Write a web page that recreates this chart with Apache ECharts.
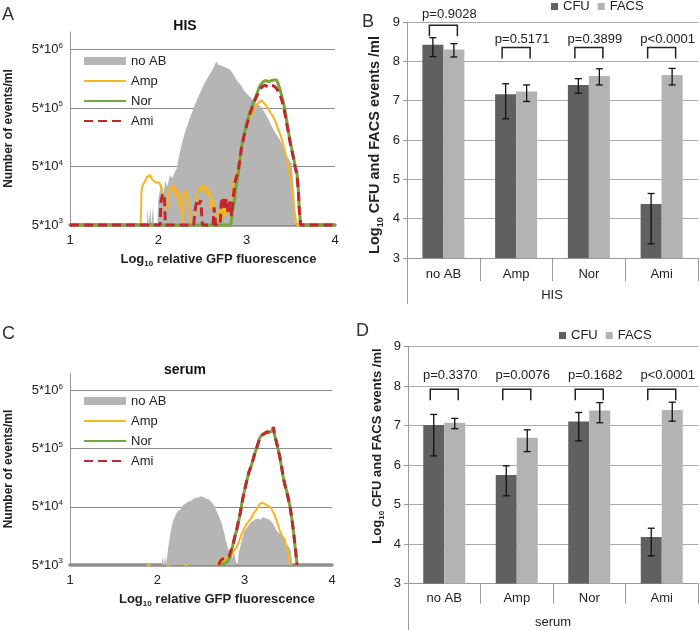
<!DOCTYPE html>
<html>
<head>
<meta charset="utf-8">
<script src="https://cdn.jsdelivr.net/npm/echarts@6/dist/echarts.min.js"></script>
<style>
  html, body { margin: 0; padding: 0; background: #fff; }
  #chart { width: 700px; height: 630px; }
</style>
</head>
<body>
<div id="chart"></div>
<script>
// histogram panels: [log10 relative GFP fluorescence, log10 events/ml]
const hisNoAB = [[1.00,3.70],[1.87,3.70],[1.88,4.00],[1.89,3.70],[1.91,4.00],[1.92,3.70],[1.94,4.01],[1.95,3.70],[1.99,3.70],
  [2.00,4.15],[2.02,4.30],[2.04,4.40],[2.06,4.25],[2.08,4.45],[2.10,4.35],[2.13,4.55],[2.16,4.50],[2.19,4.62],[2.21,4.66],
  [2.23,4.85],[2.26,5.05],[2.29,5.22],[2.32,5.37],[2.35,5.50],[2.38,5.62],[2.41,5.74],[2.44,5.85],[2.47,5.95],[2.50,6.05],
  [2.53,6.14],[2.56,6.22],[2.59,6.30],[2.62,6.37],[2.64,6.45],[2.66,6.49],[2.68,6.44],[2.70,6.46],[2.72,6.42],[2.75,6.40],
  [2.78,6.38],[2.81,6.36],[2.84,6.30],[2.87,6.22],[2.90,6.15],[2.93,6.10],[2.96,6.02],[3.00,5.95],[3.04,5.89],[3.08,5.82],
  [3.12,5.77],[3.16,5.72],[3.20,5.63],[3.24,5.53],[3.28,5.40],[3.32,5.28],[3.36,5.20],[3.40,5.08],[3.44,4.92],[3.48,4.82],
  [3.51,4.75],[3.53,4.73],[3.54,4.20],[3.55,3.70],[4.00,3.70]];
const hisAmp = [[1.00,3.70],[1.80,3.70],[1.81,4.30],[1.83,4.40],[1.85,4.45],[1.87,4.52],[1.89,4.50],[1.91,4.55],[1.93,4.48],
  [1.95,4.50],[1.97,4.42],[1.99,4.40],[2.01,4.43],[2.03,4.35],[2.05,4.38],[2.07,4.10],[2.09,3.95],[2.11,4.05],[2.13,4.35],
  [2.15,4.30],[2.17,4.38],[2.19,4.20],[2.21,4.32],[2.23,4.05],[2.25,4.25],[2.27,3.70],[2.29,4.15],[2.31,4.30],[2.33,4.20],
  [2.35,3.90],[2.37,3.70],[2.40,3.70],[2.42,3.95],[2.44,4.20],[2.46,4.35],[2.48,4.30],[2.50,4.40],[2.52,4.25],[2.54,4.38],
  [2.56,4.20],[2.58,4.30],[2.60,3.95],[2.62,4.15],[2.64,3.80],[2.66,3.70],[2.68,3.70],[2.70,4.00],[2.72,3.80],[2.74,4.05],
  [2.76,3.85],[2.78,4.00],[2.80,4.10],[2.82,4.05],[2.85,4.45],[2.89,4.58],[2.93,4.95],[2.96,5.15],[3.00,5.40],[3.04,5.55],
  [3.08,5.68],[3.11,5.74],[3.14,5.80],[3.17,5.83],[3.20,5.78],[3.23,5.72],[3.27,5.62],[3.30,5.55],[3.33,5.45],[3.36,5.32],
  [3.38,5.25],[3.40,5.15],[3.43,4.98],[3.47,4.70],[3.49,4.52],[3.51,4.35],[3.53,4.10],[3.55,3.84],[3.57,3.70],[4.00,3.70]];
const hisNor = [[1.00,3.70],[2.82,3.70],[2.84,3.95],[2.86,4.10],[2.88,4.35],[2.91,4.64],[2.94,5.03],[2.97,5.25],[3.00,5.43],
  [3.03,5.60],[3.06,5.72],[3.09,5.85],[3.12,5.96],[3.15,6.08],[3.18,6.14],[3.21,6.17],[3.23,6.18],[3.25,6.15],[3.28,6.17],
  [3.31,6.18],[3.34,6.18],[3.36,6.10],[3.38,6.00],[3.40,5.88],[3.42,5.77],[3.44,5.60],[3.46,5.42],[3.49,5.15],[3.51,5.00],
  [3.53,4.86],[3.55,4.70],[3.57,4.58],[3.585,4.30],[3.595,4.00],[3.61,3.70],[4.00,3.70]];
const hisAmi = [[1.00,3.70],[2.02,3.70],[2.03,4.10],[2.05,4.24],[2.07,4.15],[2.08,3.70],[2.40,3.70],[2.42,4.00],[2.44,4.13],
  [2.46,4.05],[2.48,4.12],[2.50,3.70],[2.62,3.70],[2.63,4.00],[2.65,3.70],[2.70,3.70],[2.71,4.05],[2.73,4.18],[2.75,3.95],
  [2.77,4.15],[2.79,3.90],[2.81,4.10],[2.83,3.85],[2.85,4.20],[2.87,4.45],[2.89,4.55],[2.91,4.68],[2.94,5.00],[2.97,5.22],
  [3.00,5.40],[3.03,5.57],[3.06,5.70],[3.09,5.82],[3.12,5.92],[3.15,6.02],[3.18,6.07],[3.21,6.09],[3.24,6.06],[3.27,6.09],
  [3.30,6.08],[3.33,6.05],[3.36,5.98],[3.38,5.92],[3.40,5.82],[3.42,5.70],[3.44,5.55],[3.46,5.38],[3.49,5.12],[3.51,4.98],
  [3.53,4.84],[3.55,4.68],[3.57,4.55],[3.585,4.28],[3.595,3.98],[3.61,3.70],[4.00,3.70]];

const serumNoAB = [[1.00,3.70],[2.05,3.70],[2.06,3.84],[2.07,3.70],[2.09,3.84],[2.10,3.70],[2.12,3.70],[2.13,4.05],[2.15,4.25],
  [2.17,4.40],[2.19,4.50],[2.21,4.52],[2.23,4.62],[2.26,4.65],[2.29,4.72],[2.32,4.75],[2.35,4.78],[2.38,4.80],[2.41,4.83],
  [2.44,4.86],[2.47,4.86],[2.50,4.88],[2.53,4.87],[2.56,4.84],[2.59,4.83],[2.62,4.78],[2.65,4.72],[2.68,4.62],[2.71,4.52],
  [2.74,4.40],[2.77,4.22],[2.80,4.02],[2.82,3.95],[2.84,3.90],[2.86,3.82],[2.88,3.92],[2.90,3.75],[2.92,3.70],[2.93,3.90],
  [2.95,4.01],[2.97,4.15],[3.00,4.30],[3.03,4.35],[3.06,4.42],[3.09,4.45],[3.12,4.48],[3.15,4.50],[3.18,4.48],[3.21,4.52],
  [3.24,4.50],[3.27,4.49],[3.30,4.45],[3.33,4.40],[3.36,4.30],[3.39,4.25],[3.42,4.22],[3.45,4.15],[3.48,4.07],[3.50,4.02],
  [3.52,3.98],[3.53,3.92],[3.545,3.70],[4.00,3.70]];
const serumAmp = [[1.88,3.70],[1.92,3.70],[1.93,'-'],[2.11,3.70],[2.14,3.70],[2.15,'-'],[2.31,3.70],[2.35,3.70],[2.36,'-'],
  [2.68,3.70],[2.70,3.78],[2.72,3.70],[2.76,3.75],[2.79,3.84],[2.82,3.80],[2.85,3.87],[2.88,3.95],[2.91,4.01],[2.94,4.12],
  [2.96,4.22],[2.98,4.28],[3.00,4.35],[3.02,4.40],[3.04,4.38],[3.06,4.48],[3.08,4.52],[3.10,4.58],[3.12,4.62],[3.14,4.66],
  [3.16,4.72],[3.18,4.76],[3.20,4.79],[3.22,4.76],[3.24,4.78],[3.26,4.72],[3.28,4.70],[3.30,4.69],[3.32,4.62],[3.34,4.57],
  [3.36,4.48],[3.38,4.40],[3.40,4.30],[3.42,4.22],[3.44,4.18],[3.46,4.12],[3.48,3.98],[3.50,3.90],[3.51,3.78],[3.52,3.70]];
const serumNor = [[2.72,3.70],[2.76,3.72],[2.80,3.75],[2.83,3.84],[2.85,3.95],[2.87,4.07],[2.89,4.20],[2.91,4.30],[2.93,4.45],
  [2.95,4.59],[2.97,4.78],[2.99,4.92],[3.02,5.13],[3.05,5.30],[3.08,5.42],[3.11,5.60],[3.14,5.72],[3.17,5.88],[3.20,5.94],
  [3.23,5.97],[3.26,5.99],[3.29,5.98],[3.31,5.96],[3.32,6.02],[3.33,6.06],[3.34,5.95],[3.37,5.77],[3.40,5.58],[3.42,5.40],
  [3.44,5.22],[3.46,5.07],[3.48,4.98],[3.50,4.83],[3.52,4.70],[3.54,4.50],[3.56,4.25],[3.58,3.98],[3.60,3.70]];
const serumAmi = [[2.70,3.70],[2.72,3.76],[2.74,3.80],[2.76,3.78],[2.78,3.82],[2.80,3.80],[2.82,3.84],[2.83,3.86],[2.85,3.98],
  [2.87,4.08],[2.89,4.20],[2.91,4.32],[2.93,4.46],[2.95,4.60],[2.97,4.77],[2.99,4.93],[3.02,5.12],[3.05,5.30],[3.08,5.43],
  [3.11,5.58],[3.14,5.73],[3.17,5.86],[3.20,5.93],[3.23,5.96],[3.26,5.99],[3.29,5.97],[3.31,5.96],[3.32,6.03],[3.33,6.07],
  [3.34,5.96],[3.37,5.78],[3.40,5.57],[3.42,5.41],[3.44,5.23],[3.46,5.08],[3.48,4.97],[3.50,4.84],[3.52,4.69],[3.54,4.50],
  [3.56,4.26],[3.58,3.99],[3.60,3.70]];

// bar panels: log10 CFU / FACS events per ml
const groups = ['no AB', 'Amp', 'Nor', 'Ami'];
const hisCfu = [8.42, 7.16, 7.40, 4.37];
const hisCfuLow = [8.12, 6.54, 7.19, 3.36];
const hisCfuHigh = [8.60, 7.43, 7.56, 4.64];
const hisFacs = [8.30, 7.23, 7.63, 7.65];
const hisFacsLow = [8.11, 6.98, 7.40, 7.40];
const hisFacsHigh = [8.45, 7.40, 7.81, 7.82];
const hisP = ['p=0.9028', 'p=0.5171', 'p=0.3899', 'p<0.0001'];

const serumCfu = [7.01, 5.75, 7.10, 4.18];
const serumCfuLow = [6.23, 5.22, 6.61, 3.70];
const serumCfuHigh = [7.28, 5.98, 7.33, 4.40];
const serumFacs = [7.07, 6.69, 7.38, 7.39];
const serumFacsLow = [6.92, 6.34, 7.07, 7.11];
const serumFacsHigh = [7.18, 6.89, 7.58, 7.59];
const serumP = ['p=0.3370', 'p=0.0076', 'p=0.1682', 'p<0.0001'];

// where Excel put the significance brackets and their labels
const hisBracketTop = [8.92, 8.35, 8.35, 8.35];
const hisLabelAt = [9.20, 8.55, 8.55, 8.55];
const serumBracketTop = [7.92, 7.92, 7.92, 7.92];
const serumLabelAt = [8.28, 8.28, 8.28, 8.28];

const FONT = '"Liberation Sans", Arial, sans-serif';
const FLOOR = Math.log10(5000);
const CEIL = Math.log10(1e7);
const C_GRAY = '#b5b5b5', C_AMP = '#f6b622', C_NOR = '#76a73c', C_AMI = '#c0282d';
const C_CFU = '#606060', C_FACS = '#b3b3b3';
const BAR_W = 21;

const lift = pts => pts.map(([x, y]) => [x, y === '-' ? '-' : y - FLOOR]);

function histSeries(grid, noab, amp, nor, ami) {
  const base = { type: 'line', xAxisIndex: grid.x, yAxisIndex: grid.y, symbol: 'none', clip: false, animation: false };
  return [
    { ...base, name: 'no AB', data: lift(noab), color: C_GRAY, lineStyle: { width: 0 },
      areaStyle: { color: C_GRAY, opacity: 1 } },
    { ...base, name: 'Amp', data: lift(amp), color: C_AMP, lineStyle: { width: 2, color: C_AMP } },
    { ...base, name: 'Nor', data: lift(nor), color: C_NOR, lineStyle: { width: 3, color: C_NOR } },
    { ...base, name: 'Ami', data: lift(ami), color: C_AMI, lineStyle: { width: 3, color: C_AMI, type: [9, 5] } }
  ];
}

function errorItem(shift) {
  return function (params, api) {
    const i = api.value(0);
    const lo = api.coord([i, api.value(1)]);
    const hi = api.coord([i, api.value(2)]);
    const x = lo[0] + shift, cap = 3.5;
    const st = { stroke: '#111', lineWidth: 1.3 };
    return { type: 'group', children: [
      { type: 'line', shape: { x1: x, y1: hi[1], x2: x, y2: lo[1] }, style: st },
      { type: 'line', shape: { x1: x - cap, y1: hi[1], x2: x + cap, y2: hi[1] }, style: st },
      { type: 'line', shape: { x1: x - cap, y1: lo[1], x2: x + cap, y2: lo[1] }, style: st }
    ]};
  };
}

function bracketItem(labels) {
  return function (params, api) {
    const i = api.value(0);
    const top = api.coord([i, api.value(1)]);
    const foot = api.coord([i, api.value(2)]);
    const lab = api.coord([i, api.value(3)]);
    const cx = top[0], w = 14;
    return { type: 'group', children: [
      { type: 'polyline', shape: { points: [[cx - w, foot[1]], [cx - w, top[1]], [cx + w, top[1]], [cx + w, foot[1]]] },
        style: { stroke: '#222', lineWidth: 1.5, fill: null } },
      { type: 'text', style: { text: labels[params.dataIndex], x: cx + 6, y: lab[1], align: 'center',
        verticalAlign: 'middle', fill: '#222', fontSize: 13, fontFamily: FONT } }
    ]};
  };
}

function barSeries(xi, yi, cfu, cfuLo, cfuHi, facs, facsLo, facsHi, ptop, pAt, pText) {
  const ax = { xAxisIndex: xi, yAxisIndex: yi, animation: false };
  return [
    { ...ax, type: 'bar', name: 'CFU', data: cfu, color: C_CFU, barWidth: BAR_W, barGap: '0%' },
    { ...ax, type: 'bar', name: 'FACS', data: facs, color: C_FACS, barWidth: BAR_W, barGap: '0%' },
    { ...ax, type: 'custom', name: 'err-cfu', renderItem: errorItem(-BAR_W / 2),
      data: cfu.map((_, i) => [i, cfuLo[i], cfuHi[i]]), z: 5 },
    { ...ax, type: 'custom', name: 'err-facs', renderItem: errorItem(BAR_W / 2),
      data: facs.map((_, i) => [i, facsLo[i], facsHi[i]]), z: 5 },
    { ...ax, type: 'custom', name: 'p', renderItem: bracketItem(pText),
      data: ptop.map((t, i) => [i, t, t - 0.28, pAt[i]]), z: 5 }
  ];
}

const txt = { fontFamily: FONT, color: '#222', fontSize: 13 };
const supRich = { sup: { fontSize: 8, verticalAlign: 'top', lineHeight: 8, fontFamily: FONT, color: '#222' } };
const subRich = size => ({ sub: { fontSize: size, fontWeight: 'bold', verticalAlign: 'bottom', lineHeight: size + 1,
  fontFamily: FONT, color: '#222' } });

function histX(grid, name) {
  return {
    type: 'value', gridIndex: grid, min: 1, max: 4, interval: 1,
    axisLine: { onZero: false, lineStyle: { color: '#8f8f8f', width: 3.5 } },
    axisTick: { show: false }, splitLine: { show: false },
    axisLabel: { ...txt, margin: 9 },
    name: name, nameLocation: 'middle', nameGap: 25,
    nameTextStyle: { ...txt, fontWeight: 'bold', lineHeight: 18, padding: [0, 0, 0, 32], rich: subRich(8) }
  };
}

function histY(grid) {
  return {
    type: 'value', gridIndex: grid, min: 0, max: CEIL - FLOOR, interval: 1,
    axisLine: { show: true, lineStyle: { color: '#999' } }, axisTick: { show: false },
    splitLine: { show: true, showMaxLine: false, lineStyle: { color: '#8c8c8c' } },
    axisLabel: { ...txt, margin: 7, lineHeight: 16, showMaxLabel: false, rich: supRich,
      formatter: v => Number.isInteger(v) ? '5*10{sup|' + (v + 3) + '}' : '' },
    name: 'Number of events/ml', nameLocation: 'middle', nameGap: 55,
    nameTextStyle: { ...txt, fontSize: 12, fontWeight: 'bold' }
  };
}

function barX(grid, tickLen, margin) {
  return { type: 'category', gridIndex: grid, data: groups, position: 'bottom',
    axisLine: { show: true, lineStyle: { color: '#999' } },
    axisTick: { show: true, alignWithLabel: false, length: tickLen, lineStyle: { color: '#999' } },
    axisLabel: { ...txt, margin: margin, interval: 0 } };
}
// outer level of the two-level category axis; its grid runs past the right edge of the canvas
function groupX(grid, label, tickLen, margin, shift) {
  return { type: 'category', gridIndex: grid, data: [label], position: 'bottom',
    axisLine: { show: false },
    axisTick: { show: true, alignWithLabel: false, length: tickLen, lineStyle: { color: '#999' } },
    axisLabel: { ...txt, margin: margin, padding: [0, shift * 2, 0, 0] } };
}
function barY(grid, size, shiftUp) {
  const pad = shiftUp >= 0 ? [0, 0, 0, shiftUp * 2] : [0, -shiftUp * 2, 0, 0];
  return { type: 'value', gridIndex: grid, min: 3, max: 9, interval: 1,
    axisLine: { show: true, lineStyle: { color: '#999' } },
    axisTick: { show: true, length: 4, lineStyle: { color: '#999' } },
    splitLine: { lineStyle: { color: '#aaa' } },
    axisLabel: { ...txt, margin: 7 },
    name: 'Log{sub|10} CFU and FACS events /ml', nameLocation: 'middle', nameGap: 22,
    nameTextStyle: { ...txt, fontSize: size, fontWeight: 'bold', lineHeight: size + 5,
      padding: pad, rich: subRich(Math.round(size * 0.62)) } };
}
const hiddenY = grid => ({ type: 'value', gridIndex: grid, min: 0, max: 1, show: false });

const letter = (t, left, top) => ({ text: t, left: left, top: top, padding: 0,
  textStyle: { fontFamily: FONT, fontSize: 18, fontWeight: 'normal', color: '#333' } });
const heading = (t, top) => ({ text: t, left: 185, top: top, padding: 0, textAlign: 'center',
  textStyle: { fontFamily: FONT, fontSize: 14, fontWeight: 'bold', color: '#111' } });

const noMark = { opacity: 0 };
const histLegend = top => ({
  data: [{ name: 'no AB', icon: 'rect' }, { name: 'Amp', itemStyle: noMark }, { name: 'Nor', itemStyle: noMark },
         { name: 'Ami', itemStyle: noMark }],
  orient: 'vertical', left: 83, top: top,
  padding: 0, itemWidth: 42, itemHeight: 8, itemGap: 4, textStyle: { ...txt, lineHeight: 16 }
});
const barLegend = (left, top) => ({
  data: ['CFU', 'FACS'], left: left, top: top, padding: 0, icon: 'rect', itemWidth: 7, itemHeight: 7,
  itemGap: 8, textStyle: { ...txt }
});

const chart = echarts.init(document.getElementById('chart'));
chart.setOption({
  animation: false,
  textStyle: { fontFamily: FONT },
  title: [letter('A', 2, 6), heading('HIS', 19), letter('B', 362, 13),
          letter('C', 2, 325), heading('serum', 363), letter('D', 356, 322)],
  legend: [histLegend(53), barLegend(551, 0), histLegend(393), barLegend(559, 329)],
  grid: [
    { left: 70, top: 32, width: 265, height: 193, outerBoundsMode: 'none' },
    { left: 407, top: 22, width: 291, height: 236, outerBoundsMode: 'none' },
    { left: 70, top: 373, width: 262, height: 192, outerBoundsMode: 'none' },
    { left: 408, top: 346.5, width: 290, height: 237, outerBoundsMode: 'none' },
    { left: 407, top: 22, width: 420, height: 236, outerBoundsMode: 'none' },
    { left: 408, top: 346.5, width: 420, height: 237, outerBoundsMode: 'none' }
  ],
  xAxis: [
    histX(0, 'Log{sub|10} relative GFP fluorescence'),
    barX(1, 23, 10), groupX(4, 'HIS', 46, 31, 65),
    histX(2, 'Log{sub|10} relative GFP fluorescence'),
    barX(3, 20, 8), groupX(5, 'serum', 50, 32, 65)
  ],
  yAxis: [histY(0), barY(1, 14.5, -5), histY(2), barY(3, 13, 19), hiddenY(4), hiddenY(5)],
  series: [
    ...histSeries({ x: 0, y: 0 }, hisNoAB, hisAmp, hisNor, hisAmi),
    ...barSeries(1, 1, hisCfu, hisCfuLow, hisCfuHigh, hisFacs, hisFacsLow, hisFacsHigh, hisBracketTop, hisLabelAt, hisP),
    ...histSeries({ x: 3, y: 2 }, serumNoAB, serumAmp, serumNor, serumAmi),
    ...barSeries(4, 3, serumCfu, serumCfuLow, serumCfuHigh, serumFacs, serumFacsLow, serumFacsHigh, serumBracketTop, serumLabelAt, serumP)
  ]
});
</script>
</body>
</html>
